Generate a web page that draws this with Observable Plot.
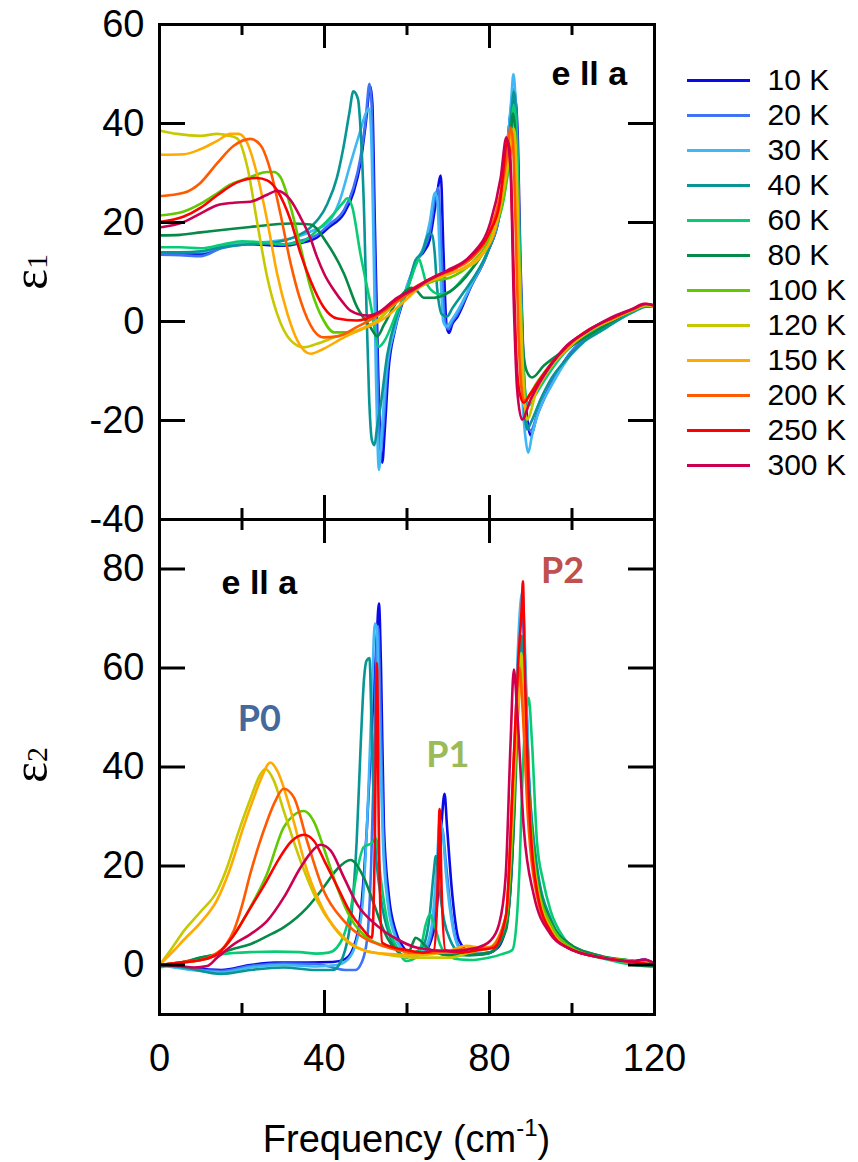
<!DOCTYPE html>
<html><head><meta charset="utf-8">
<script src="https://cdn.jsdelivr.net/npm/d3@7"></script>
<script src="https://cdn.jsdelivr.net/npm/@observablehq/plot@0.6"></script>
<style>
html,body{margin:0;padding:0;background:#fff;}
#chart{position:relative;width:858px;height:1162px;overflow:hidden;background:#fff;}
#chart > svg{position:absolute;}
</style></head><body><div id="chart"></div>
<script>
// ---------- categories / styling lists ----------
const temps = ["10 K","20 K","30 K","40 K","60 K","80 K","100 K","120 K","150 K","200 K","250 K","300 K"];
const colors = ["#0a0ae8","#3f74f5","#40b8f5","#089595","#08cc74","#078a48","#62c800","#c8c800","#ffaa00","#ff5a00","#ff0000","#cc0050"];
const xMajor = [0, 40, 80, 120];
const xMinor = [20, 60, 100];
const e1Ticks = [-40, -20, 0, 20, 40, 60];
const e2Ticks = [0, 20, 40, 60, 80];

// ---------- epsilon_1 (top panel) : [frequency, value] ----------
const e1_10K = [[0,13.8],[5,13.7],[10,13.6],[15,15],[20,15.7],[25,15.5],[30,15.3],[34,15.8],[38.2,17],[41,19],[44.7,21.8],[47,26],[48.7,31.9],[50,40],[51.1,47.5],[51.6,44],[52.2,20],[53,-10],[54,-28.5],[54.6,-22],[55.5,-10],[57,-2],[59,4],[61,9],[62.5,12.5],[64,14],[65.5,16.5],[67,24],[68.2,29.5],[68.8,15],[69.6,-1],[70.2,-2.3],[71,-0.5],[72.2,0.9],[75.4,6.9],[79.4,13.7],[82.7,23],[84.3,36],[85.5,44],[86.2,45],[86.9,36],[87.5,12],[88.3,-10],[89.2,-20],[90,-23],[91.5,-19],[95,-12.5],[99,-7],[103,-3.5],[109,0],[115,2.3],[118,3.3],[120,3]];
const e1_20K = [[0,13.5],[5,13.4],[10,13.2],[15,14.8],[20,15.5],[25,15.8],[30,15.5],[34,16.3],[38.2,17.5],[41,19.5],[44.7,22.5],[47,27],[48.7,33],[50,41],[50.9,48],[51.4,44],[52,20],[52.8,-10],[53.6,-26],[54.2,-22],[55.2,-10],[57,-1.5],[59,4.5],[61,9.5],[62.5,12.5],[64,14.5],[65.5,18],[66.8,25],[67.6,27],[68.3,15],[69.2,0],[70,-1.5],[71,0],[72.2,1.5],[75.4,7],[79.4,13.7],[82.7,23],[84.3,35],[85.3,44],[86,47],[86.7,38],[87.4,12],[88.2,-10],[89.1,-21],[90,-22],[91.5,-19],[95,-12.5],[99,-7],[103,-3.5],[109,0],[115,2.3],[118,3.3],[120,3]];
const e1_30K = [[0,14],[5,14],[10,14],[15,15.2],[20,15.8],[25,16],[30,16.5],[34,17.3],[37.5,18.5],[40.7,19.8],[43.5,24],[46.3,31.9],[48.5,38],[50.3,42.6],[50.8,43],[51.3,38],[51.9,15],[52.5,-12],[53.2,-30],[53.9,-22],[55,-10],[57,-1.5],[59,4.5],[61,9.5],[62.5,12.5],[64,15],[65.5,20],[66.8,26],[67.3,25],[68,12],[68.8,0],[69.6,-1],[71,0.5],[72.5,2.5],[75.4,7.2],[79.4,14],[82.7,23.5],[84.3,35],[85.2,44],[85.8,50],[86.4,42],[87,15],[87.8,-12],[88.8,-24],[89.4,-26.5],[90.3,-23],[92,-18],[95,-13],[99,-7.5],[103,-4],[109,-0.5],[115,2],[118,3.2],[120,3]];
const e1_40K = [[0,14],[5,14],[10,14.2],[15,15],[20,15.5],[25,15.7],[30,16.3],[32.5,17],[36.6,19],[40.7,23.8],[43,29],[44.6,35.2],[46,42],[47,46.5],[48.1,45],[48.8,38],[49.6,22],[50.2,2],[50.8,-15],[51.5,-24],[52.1,-25],[52.8,-21],[53.6,-17],[55.2,-6.8],[57.6,1.4],[60,6.1],[62,12.3],[63.7,14],[65.3,17.7],[66.1,17.5],[66.7,14],[67.3,6.8],[68.5,1.4],[69.7,1],[71,2.7],[73.8,6],[77,10],[80,15],[82.7,23],[84.3,33],[85.3,42],[85.9,46.4],[86.5,40],[87.2,15],[88,-10],[88.7,-20],[89.1,-21.8],[90,-20.5],[92.4,-15.7],[95,-11.5],[98.8,-7.5],[103,-4],[106.9,-2],[115,2],[118,3],[120,3]];
const e1_60K = [[0,15],[5,15],[10,14.8],[15,15.5],[20,16.2],[25,16],[30,15.6],[34.2,16],[38.2,18.4],[42.3,21.8],[44.5,24],[45.5,24.9],[46.7,23.2],[48.7,13.7],[51.2,3.4],[53.2,-5.1],[54.4,-4.1],[57.6,2],[60.8,8.2],[62.2,11.5],[62.9,12.6],[63.6,11],[64.5,8.2],[65.7,6.5],[68.1,5.5],[70.5,6.1],[73.8,8.9],[77.8,13],[81,18],[83.5,25],[85,34],[85.9,43.7],[86.6,38],[87.3,15],[88,-5],[88.8,-15],[89.5,-17],[91,-15],[94,-11],[98,-6.5],[103,-3],[109,0],[115,2.2],[118,3.2],[120,3]];
const e1_80K = [[0,17.4],[5,17.5],[10,18],[14,18.4],[22,19.1],[31.8,19.8],[36.6,19.6],[40.7,15.7],[44.7,9.7],[47.9,2.9],[51.1,-1.1],[52.8,-3],[54.4,-0.7],[57.6,4.1],[61.2,6.8],[62.5,6.1],[64.1,4.8],[66.5,4.8],[70.5,6.1],[75.4,10.2],[80.2,17.1],[83.5,26],[85,36],[85.7,42],[86.4,35],[87.2,10],[88.2,-6],[89,-10],[90.3,-11.3],[93.2,-8.9],[98.8,-5.5],[106.9,-1.4],[115,2.4],[118,3.3],[120,3]];
const e1_100K = [[0,21.4],[5.9,22.2],[10,23.8],[14,25.9],[17,27.6],[20.4,28.7],[23,29.5],[26.1,30.2],[27.7,30.2],[29.3,29.2],[31.8,23.1],[34.2,15],[36.6,6.9],[39.8,0.2],[42.3,-2.2],[46.3,-2.2],[50.3,-1.1],[53,0.3],[57.6,4.1],[62.5,6.8],[66.5,8.2],[70.5,8.9],[75.4,11.6],[80.2,17.1],[83.5,25.3],[85.2,35],[85.8,38],[86.4,33],[87.2,5],[87.9,-10.2],[88.7,-15.7],[91.5,-12.3],[95,-8.5],[98.8,-5.5],[104,-2],[110,0.5],[115,2.4],[118,3.3],[120,3]];
const e1_120K = [[0,38.6],[4.3,37.9],[9.9,37.5],[14,37.9],[16.4,37.6],[18.8,37],[21.3,31.2],[23.6,20.4],[26.1,9],[28.5,1.6],[31.8,-3.8],[35,-5.2],[38.2,-4.5],[43.1,-3],[47.9,-1.8],[52.8,0.2],[57.6,4],[62.5,6.8],[67.3,8.9],[72.2,10.2],[77,12.3],[81.1,18.4],[84.3,30.7],[85.9,39],[86.5,33],[87.1,15],[87.9,-5],[88.5,-16],[89.1,-19.8],[91.5,-13.7],[95,-9],[98.8,-5.5],[104,-2],[110,0.5],[115,2.4],[118,3.3],[120,3]];
const e1_150K = [[0,33.7],[5.9,33.8],[9.9,34.8],[14,36.5],[17.2,37.9],[19.2,37.9],[21.3,36],[23.6,29.9],[26.1,20.4],[28.5,9.7],[31,1.6],[33.4,-3.8],[36.6,-6.5],[39.8,-5.5],[44.7,-3.2],[49.5,-1.4],[54.4,0.6],[59.2,4],[64,7.5],[69,9.2],[74,11],[78,13.5],[81.5,19],[84,30],[85.3,38],[85.9,36],[86.6,20],[87.3,0],[88,-13],[88.6,-17.5],[90,-16],[92,-13],[95,-9],[98.8,-5.5],[104,-2],[110,0.5],[115,2.4],[118,3.4],[120,3.1]];
const e1_200K = [[0,25.3],[5.9,26],[9.9,28],[14,32],[18,35.5],[22,36.9],[24.5,35.6],[26.9,30.5],[29.3,21.8],[31.8,11.7],[34.2,4.2],[37.4,-1.8],[39.8,-3.2],[43.1,-3],[47.9,-1.1],[52.8,1.2],[57.6,4],[62.5,6.8],[67,9],[72,10.8],[76,13],[80,18],[82.7,26],[84.3,34],[85.1,39.2],[85.7,36],[86.3,20],[87,-2],[87.7,-13],[88.4,-16],[90,-14.5],[92,-12],[95,-8.5],[98.8,-5],[104,-1.7],[110,0.7],[115,2.5],[118,3.5],[120,3.2]];
const e1_250K = [[0,20.1],[5.9,21.2],[10,23],[14,25.5],[18.8,28.1],[23.6,29],[26.1,28.5],[28.5,26.5],[30.1,24],[31.8,20.4],[34.2,13.7],[36.6,8.3],[39.8,2.9],[43.1,0.6],[47.9,0.2],[52.8,1.6],[57.6,4.5],[62.5,7.2],[67,9.2],[72,11],[76,13.5],[80,18],[82.5,24],[84.4,36.5],[85,34],[85.7,15],[86.4,-5],[87.2,-14],[88.3,-16.4],[90,-14.5],[92,-12],[95,-8.5],[98.8,-5],[104,-1.7],[110,0.8],[115,2.6],[118,3.6],[120,3.2]];
const e1_300K = [[0,19],[5.9,20.1],[9.9,21.8],[14,23.5],[18,24],[22,24.2],[26.1,25.6],[28.5,26.4],[30,26],[31.8,24.5],[34.2,21],[36.5,17],[38.2,13],[40,9.5],[42.3,6.3],[44.5,3.8],[46.3,2.2],[50.3,1.2],[53,1.8],[57.6,4.8],[61.6,6.5],[65,8.3],[69.7,10.3],[75.4,13.3],[80.2,20],[82.7,29],[84.1,37.2],[85.1,30.7],[85.9,3.4],[86.7,-13.7],[87.9,-19.8],[90,-15.7],[94.8,-8.9],[98.8,-4.8],[102.9,-2.4],[109.3,0.7],[115,2.7],[117.4,3.6],[120,3.3]];

// ---------- epsilon_2 (bottom panel) : [frequency, value] ----------
const e2_10K = [[0,0],[6,-0.5],[15,-1],[22,0],[28,0.5],[36,0.5],[42,0.6],[45,1.2],[47,3.5],[48.7,10],[50.3,28],[51.6,50],[52.6,65],[53.2,73],[53.7,60],[54.4,28],[55.6,14],[57.2,7],[59.2,3.5],[61,2],[64,2.5],[66.5,7],[67.7,17],[68.5,30],[69.1,34.6],[69.7,28],[71,14],[72.6,5],[75.4,2.5],[78.6,2.2],[82,3.5],[84.3,9],[85.9,30],[86.7,55],[87.5,70],[88,73],[88.5,63],[89.5,38],[91.5,18],[94.8,8],[98.8,4],[107,1.5],[115,0.8],[117.5,1.1],[120,0.2]];
const e2_20K = [[0,0],[6,-0.6],[15,-1.2],[22,-0.2],[30,0.3],[38,0.2],[42,-0.5],[45,-1],[47.5,-1],[49,0.5],[50.3,5],[51.3,20],[52.1,45],[52.7,66],[53,68.5],[53.4,58],[54.2,28],[55.4,13],[57,6.5],[59,3],[61,2],[64,2.5],[66.3,8],[67.5,20],[68.2,28],[68.7,27],[69.4,21],[70.8,10],[72.8,3.5],[76,2.2],[80,2.5],[84,8],[85.9,32],[86.8,58],[87.6,72],[88,74],[88.5,64],[89.5,38],[91.5,17],[95,7.5],[99,4],[107,1.5],[115,0.8],[120,0.2]];
const e2_30K = [[0,0],[6,-0.8],[15,-1.5],[22,-0.5],[30,0],[38,-0.3],[43,0],[45.5,1],[47.5,4],[49.2,12],[50.5,32],[51.5,55],[52.2,69],[52.7,68],[53.3,48],[54.2,24],[55.4,12],[57,6],[59,3],[61,2],[64,3],[66,8],[67.2,20],[68,29.5],[68.6,27],[69.5,18],[71,8],[73,3],[76,2.2],[80,2.5],[84,8],[85.9,35],[86.8,62],[87.5,73],[88,75.5],[88.5,67],[89.5,40],[91.5,19],[95,8],[99,4.2],[107,1.6],[115,0.8],[120,0.2]];
const e2_40K = [[0,0],[6,-0.5],[15,-1.8],[22,-1],[30,-0.5],[38,-1],[42,-1],[43.5,0],[45,3],[46.5,10],[47.8,25],[48.8,45],[49.6,58],[50.2,61.5],[50.9,62],[51.5,45],[52.3,25],[53.6,14],[56,5.5],[58,2.5],[60,1.5],[62,2.5],[64,4],[65.5,10],[66.4,18],[67,22],[67.8,16],[69,9],[70.5,5],[72,3],[75,2],[80,2.5],[84,9],[86,38],[87.3,60],[87.8,66.5],[88.3,60],[89.5,38],[91.5,20],[95,9],[99,4.5],[107,1.8],[115,0.6],[120,0]];
const e2_60K = [[0,-0.5],[5,0.3],[10,1.5],[15,2.2],[22,2.6],[28,2.7],[34,2.6],[38,2.3],[41,2.5],[43,3.5],[44.7,6],[46.3,11],[47.9,19],[49.5,23.8],[51.2,24.5],[52.5,25.5],[53.6,17.7],[55.2,8.9],[57.6,3.5],[59.8,0.8],[61,1],[62.5,1.8],[63.5,4],[64.5,8],[65.6,10.3],[66.5,8.5],[68,4.2],[70,1.8],[73,1.1],[76,1],[80,1.5],[83,2.2],[85.5,3],[86.5,8],[87.3,20],[88,38],[88.8,50],[89.5,54],[90.3,45],[91.5,25],[93,17],[94.8,11],[98,5.5],[102,2.8],[108,1.2],[115,0],[120,-0.4]];
const e2_80K = [[0,0],[5,0.5],[10,1.5],[14,2.2],[18,3.3],[22,4.2],[26,5.8],[30.1,7.6],[35.8,11.6],[39.8,15.7],[43.1,19.4],[46.3,21.2],[49.5,17.7],[52,12.3],[54.4,6.9],[57.6,2.8],[60,1.8],[61.2,4],[62.1,5.5],[63.3,4.9],[64.9,3.5],[67,2.5],[70,2],[75,2],[80,2.5],[84,7],[86,30],[87.2,56],[87.7,60],[88.3,54],[89.6,34],[91.5,18],[95,8.5],[99,4.5],[107,1.8],[115,0.8],[120,0]];
const e2_100K = [[0,0],[5,0.5],[10,1],[14,2.2],[18,6],[22,11.6],[26.1,18.5],[30.1,27.8],[32.6,30.3],[35,31.1],[37.4,29],[39.8,23.7],[43.1,15.6],[46.3,9.5],[50.3,5.5],[54,4],[58,3],[62,2.6],[66,2.5],[70,2.5],[75,3],[80,3.5],[84,9],[86,35],[87.1,57],[87.6,62],[88.2,55],[89.5,35],[91.5,17],[95,8],[99,4],[107,1.5],[115,0.8],[120,0]];
const e2_120K = [[0,0],[3,3.4],[6,7],[10,10.8],[14,15],[16.5,20],[18.8,26],[22,33.5],[24.5,38.6],[25.7,39.6],[27.7,37.3],[30.1,31.2],[34.2,21],[38.2,13],[42.3,7.6],[46.3,4.2],[50.3,2.8],[54.4,2.2],[62.5,1.5],[70.5,1.5],[75,2.5],[80,3.5],[84,10],[86,38],[87.2,60],[87.7,63],[88.3,55],[89.5,33],[91.5,16],[95,7],[99,3.5],[107,1.5],[115,0.6],[120,0]];
const e2_150K = [[0,0],[3,2.5],[5.8,5],[10,8.6],[14,13.2],[17,19.2],[20.4,28],[22.5,33],[24.5,37.4],[26.9,40.9],[28.5,39.3],[31.8,31.2],[35.8,19],[39.8,11],[44.7,5.5],[50.3,2.8],[56,2.2],[62,2],[66,2.2],[70,2.8],[74.5,3.9],[78,3.5],[81,3.8],[84,10],[86,40],[87.3,55],[87.8,57],[88.4,50],[89.5,32],[91.5,15],[95,7],[99,3.5],[107,1.5],[115,0.6],[120,0]];
const e2_200K = [[0,0],[5,0.5],[10,1],[13,2],[16,4],[18,6.9],[20,12],[22,18.4],[24,24],[26.1,29.1],[28,33],[30.1,35.6],[32.6,33.8],[35.8,25],[39.8,15],[44.7,8.9],[49.5,5.5],[54.4,3.8],[58,3],[62,2.5],[66,2.5],[70,2.8],[75,3.3],[80,3.5],[84,10],[85.8,40],[86.8,57],[87.3,60],[88,52],[89.3,30],[91.5,14],[95,6.5],[99,3.5],[107,1.5],[115,0.6],[120,0]];
const e2_250K = [[0,0],[5,0.5],[10,1],[14,2.2],[18,6],[22,11.5],[26,17],[29,21.5],[32,25],[35,26.3],[37.5,25],[40,21],[43,16],[46,11],[49,7.5],[51.5,5.5],[52.2,25],[52.7,61],[53.2,25],[54,4.5],[57,3.5],[60,3],[64,2.5],[66.5,3],[67.4,15],[67.9,31.5],[68.4,15],[69.3,3],[73,2.5],[77,3],[81,3.5],[84,10],[85.8,40],[87,62],[87.8,72],[88.1,77.5],[88.5,62],[89.5,35],[91.5,15],[95,6.5],[99,3.5],[107,1.5],[115,0.6],[120,0]];
const e2_300K = [[0,0],[5,-0.2],[8.3,-0.5],[11.6,-0.2],[14,1.5],[18,4.2],[22,6.2],[26.1,8.9],[30.1,13.6],[34.2,19.7],[36.5,22.5],[39,24.3],[41.5,23.1],[44.7,17.7],[47.9,12.3],[52.8,7.9],[57.6,5.2],[62.5,3.5],[70.5,2.8],[77,3.5],[80.2,4.9],[82.3,8.2],[83.9,17.7],[85.1,44.7],[85.9,59.7],[86.7,51.5],[88.3,27.8],[90.7,14.3],[94.8,6.2],[98.8,3.5],[107,1.5],[115,0.7],[117.5,1.1],[120,0.3]];

// ---------- annotations (text + data position) ----------
const annotTop = [{t: "e ll a", f: 104.2, v: 49.9}];
const annotBottomE = [{t: "e ll a", f: 24.2, v: 77.2}];
const annotP0 = [{t: "P0", f: 24.2, v: 49.7}];
const annotP1 = [{t: "P1", f: 69.9, v: 42.3}];
const annotP2 = [{t: "P2", f: 97.7, v: 79.5}];

// ---------- build tidy tables ----------
const e1Series = [e1_10K,e1_20K,e1_30K,e1_40K,e1_60K,e1_80K,e1_100K,e1_120K,e1_150K,e1_200K,e1_250K,e1_300K];
const e2Series = [e2_10K,e2_20K,e2_30K,e2_40K,e2_60K,e2_80K,e2_100K,e2_120K,e2_150K,e2_200K,e2_250K,e2_300K];
const tidy = series => series.flatMap((s, i) => s.map(([f, v]) => ({T: temps[i], f, v})));
const e1Rows = tidy(e1Series);
const e2Rows = tidy(e2Series);

const FONT = '"Liberation Sans", Arial, Helvetica, sans-serif';
const FW = 495, PH = 495;
const TMAJ = 24, TMIN = 11, TY = 26;
const K = {stroke: "black", strokeWidth: 3};

function borderTicks(yTicks) {
  return [
    Plot.tickX(xMajor, {x: d => d, insetTop: PH - TMAJ, ...K}),
    Plot.tickX(xMajor, {x: d => d, insetBottom: PH - TMAJ, ...K}),
    Plot.tickX(xMinor, {x: d => d, insetTop: PH - TMIN, ...K}),
    Plot.tickX(xMinor, {x: d => d, insetBottom: PH - TMIN, ...K}),
    Plot.tickY(yTicks, {y: d => d, insetRight: FW - TY, ...K}),
    Plot.tickY(yTicks, {y: d => d, insetLeft: FW - TY, ...K})
  ];
}
const baseStyle = {fontFamily: FONT, fontSize: "38px", background: "transparent", overflow: "visible", color: "black"};

const topPlot = Plot.plot({
  width: 858, height: 519, marginLeft: 159, marginRight: 204, marginTop: 24, marginBottom: 0,
  style: baseStyle,
  x: {domain: [0, 120], axis: null},
  y: {domain: [-40, 60], label: null},
  color: {domain: temps, range: colors},
  marks: [
    Plot.line(e1Rows, {x: "f", y: "v", z: "T", stroke: "T", strokeWidth: 2.6, curve: "monotone-x"}),
    Plot.frame({stroke: "black", strokeWidth: 3}),
    ...borderTicks(e1Ticks),
    Plot.axisY(e1Ticks, {tickSize: 0, tickPadding: 15, tickFormat: d => String(d), label: null, fontSize: 38}),
    Plot.text(annotTop, {x: "f", y: "v", text: "t", fontSize: 34, fontWeight: "bold", fill: "black"})
  ]
});

const bottomPlot = Plot.plot({
  width: 858, height: 643, marginLeft: 159, marginRight: 204, marginTop: 0, marginBottom: 148,
  style: baseStyle,
  x: {domain: [0, 120], label: null},
  y: {domain: [-10, 90], label: null},
  color: {domain: temps, range: colors},
  marks: [
    Plot.line(e2Rows, {x: "f", y: "v", z: "T", stroke: "T", strokeWidth: 2.6, curve: "monotone-x"}),
    Plot.frame({stroke: "black", strokeWidth: 3}),
    ...borderTicks(e2Ticks),
    Plot.axisY(e2Ticks, {tickSize: 0, tickPadding: 15, tickFormat: d => String(d), label: null, fontSize: 38}),
    Plot.axisX(xMajor, {tickSize: 0, tickPadding: 30, tickFormat: d => String(d), label: null, fontSize: 38}),
    Plot.text(annotBottomE, {x: "f", y: "v", text: "t", fontSize: 34, fontWeight: "bold", fill: "black"}),
    Plot.text(annotP0, {x: "f", y: "v", text: "t", fontSize: 36, fontWeight: "bold", fontFamily: "Lato, 'Open Sans', sans-serif", fill: "#44699a"}),
    Plot.text(annotP1, {x: "f", y: "v", text: "t", fontSize: 36, fontWeight: "bold", fontFamily: "Lato, 'Open Sans', sans-serif", fill: "#9bbb59"}),
    Plot.text(annotP2, {x: "f", y: "v", text: "t", fontSize: 36, fontWeight: "bold", fontFamily: "Lato, 'Open Sans', sans-serif", fill: "#c0504d"})
  ]
});

const legendPlot = Plot.plot({
  width: 178, height: 470, marginLeft: 0, marginRight: 0, marginTop: 0, marginBottom: 0,
  style: {fontFamily: FONT, background: "transparent", overflow: "visible", color: "black"},
  x: {domain: [0, 1], range: [7, 70], axis: null},
  y: {type: "point", domain: temps, range: [35, 463], axis: null},
  color: {domain: temps, range: colors},
  marks: [
    Plot.ruleY(temps, {y: d => d, x1: 0, x2: 1, stroke: d => d, strokeWidth: 3}),
    Plot.text(temps, {y: d => d, x: 1, dx: 17, text: d => d, textAnchor: "start", fontSize: 30, fill: "black"})
  ]
});

const chart = document.getElementById("chart");
topPlot.style.left = "0px"; topPlot.style.top = "0px";
bottomPlot.style.left = "0px"; bottomPlot.style.top = "519px";
legendPlot.style.left = "680px"; legendPlot.style.top = "23px";
chart.appendChild(bottomPlot);
chart.appendChild(topPlot);
chart.appendChild(legendPlot);

// y-axis titles (epsilon_1, epsilon_2), rotated
function yTitle(svg, cy, sub) {
  const t = d3.select(svg).append("text")
    .attr("transform", `translate(47,${cy}) rotate(-90)`)
    .attr("text-anchor", "middle")
    .attr("font-family", '"Liberation Serif", "Times New Roman", serif')
    .attr("fill", "black");
  t.append("tspan").attr("font-size", 50).text("ε");
  t.append("tspan").attr("font-size", 30).text(sub);
}
yTitle(topPlot, 272, "1");
yTitle(bottomPlot, 246, "2");

// x-axis title
const xt = d3.select(bottomPlot).append("text")
  .attr("x", 406.5).attr("y", 633)
  .attr("text-anchor", "middle")
  .attr("font-family", FONT).attr("font-size", 38).attr("fill", "black");
xt.append("tspan").text("Frequency (cm");
xt.append("tspan").attr("font-size", 24).attr("dy", -16).text("-1");
xt.append("tspan").attr("dy", 16).text(")");
</script></body></html>
